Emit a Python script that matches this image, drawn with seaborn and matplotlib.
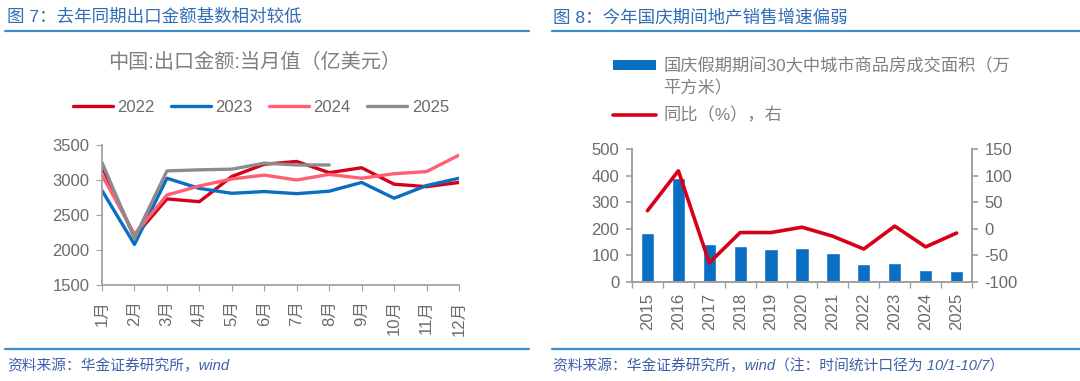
import numpy as np
import pandas as pd
import seaborn as sns
import matplotlib.pyplot as plt
from matplotlib.lines import Line2D
from matplotlib.patches import Patch

# ---------------- data ----------------
months = ['1月', '2月', '3月', '4月', '5月', '6月', '7月', '8月', '9月', '10月', '11月', '12月']
exp_2022 = [3190, 2190, 2730, 2690, 3050, 3225, 3265, 3105, 3175, 2940, 2905, 2965]
exp_2023 = [2850, 2080, 3025, 2880, 2810, 2835, 2805, 2840, 2965, 2740, 2920, 3025]
exp_2024 = [3070, 2225, 2785, 2915, 3015, 3070, 3000, 3080, 3025, 3090, 3120, 3355]
exp_2025 = [3250, 2165, 3130, 3145, 3155, 3240, 3215, 3215]
series_names = ['2022', '2023', '2024', '2025']

years = ['2015', '2016', '2017', '2018', '2019', '2020', '2021', '2022', '2023', '2024', '2025']
area = [185, 392, 143, 134, 125, 128, 110, 68, 71, 46, 43]
yoy = [34, 109, -64, -7, -7, 3, -14, -38, 5, -34, -8]

# ---------------- style ----------------
sns.set_theme(style='white')
plt.rcParams['font.family'] = ['Liberation Sans', 'Noto Sans CJK SC']
plt.rcParams['axes.unicode_minus'] = False

TICK = '#6b6b6b'
SPINE = '#a0a0a0'
BLUE_TXT = '#2f6db5'
RULE = '#3c8ecf'
palette = {'2022': '#d7001a', '2023': '#0a6ec2', '2024': '#ff5f73', '2025': '#8c8c8c'}

fig = plt.figure(figsize=(10.8, 3.81), dpi=100)
W, H = 1080, 381


def fx(px):
    return px / W


def fy(py):
    return 1 - py / H


# header / footer rules
for x0, x1 in [(5, 529), (552, 1080)]:
    for yy in (31, 349):
        fig.add_artist(Line2D([fx(x0), fx(x1)], [fy(yy), fy(yy)], transform=fig.transFigure,
                              color=RULE, lw=1.6))

fig.text(fx(7), fy(17), '图 7：去年同期出口金额基数相对较低', color=BLUE_TXT, fontsize=12.6, va='center')
fig.text(fx(553), fy(17), '图 8：今年国庆期间地产销售增速偏弱', color=BLUE_TXT, fontsize=12.6, va='center')
fig.text(fx(7), fy(366), '资料来源：华金证券研究所，wind', color='#3d5fa8', fontsize=10.6,
         style='italic', va='center')
fig.text(fx(553), fy(366), '资料来源：华金证券研究所，wind（注：时间统计口径为 10/1-10/7）',
         color='#3d5fa8', fontsize=10.6, style='italic', va='center')

# ---------------- left chart ----------------
ax1 = fig.add_axes([fx(102), fy(285), fx(459) - fx(102), fy(145) - fy(285)])
rows = []
for name, vals in zip(series_names, [exp_2022, exp_2023, exp_2024, exp_2025]):
    for i, v in enumerate(vals):
        rows.append({'m': i, 'v': v, 'year': name})
df1 = pd.DataFrame(rows)
sns.lineplot(data=df1, x='m', y='v', hue='year', palette=palette, linewidth=2.4,
             legend=False, ax=ax1)
ax1.set_xlim(0, len(months) - 1)
ax1.set_ylim(1500, 3500)
ax1.set_yticks(np.arange(1500, 3501, 500))
ax1.set_xticks(range(len(months)))
ax1.set_xticklabels(months, rotation=90)
ax1.set_xlabel('')
ax1.set_ylabel('')
for s in ['top', 'right']:
    ax1.spines[s].set_visible(False)
for s in ['left', 'bottom']:
    ax1.spines[s].set_color(SPINE)
ax1.tick_params(axis='both', colors=SPINE, labelcolor=TICK, labelsize=12, length=4,
                width=0.8, direction='out', left=True, bottom=True, pad=5)
ax1.tick_params(axis='x', pad=7)

fig.text(fx(255), fy(62), '中国:出口金额:当月值（亿美元）', color='#808080', fontsize=14.5,
         ha='center', va='center')
handles = [Line2D([], [], color=palette[n], lw=2.4) for n in series_names]
fig.legend(handles, series_names, loc='center', bbox_to_anchor=(fx(261), fy(107)), ncol=4,
           frameon=False, fontsize=12, labelcolor=TICK, handlelength=2.4, handletextpad=0.25,
           columnspacing=1.0)

# ---------------- right chart ----------------
ax2 = fig.add_axes([fx(632), fy(282), fx(972) - fx(632), fy(149) - fy(282)])
sns.barplot(x=years, y=area, color='#0a6ec2', saturation=1, width=0.43, ax=ax2)
ax2.set_xlim(-0.5, len(years) - 0.5)
ax2.set_ylim(0, 500)
ax2.set_yticks(np.arange(0, 501, 100))
ax2.set_xticks(range(len(years)))
ax2.set_xticklabels(years, rotation=90)
ax2.set_xticks(np.arange(-0.5, len(years), 1), minor=True)
ax2.tick_params(axis='x', which='major', length=0, labelsize=12, labelcolor=TICK, pad=8)
ax2.tick_params(axis='x', which='minor', length=4, color=SPINE, bottom=True)
ax2.tick_params(axis='y', length=4, color=SPINE, labelsize=12, labelcolor=TICK, left=True, pad=5)

ax3 = ax2.twinx()
sns.lineplot(x=np.arange(len(years)), y=yoy, color='#d7001a', linewidth=2.6, ax=ax3)
ax3.set_ylim(-100, 150)
ax3.set_yticks(np.arange(-100, 151, 50))
ax3.tick_params(axis='y', length=4, color=SPINE, labelsize=12, labelcolor=TICK, right=True, pad=5)
ax2.set_xlim(-0.5, len(years) - 0.5)

for a in (ax2, ax3):
    a.spines['top'].set_visible(False)
    for s in ['left', 'right', 'bottom']:
        a.spines[s].set_color(SPINE)

# legend: bar entry (two text lines) and line entry, stacked
h_bar = Patch(facecolor='#0a6ec2', edgecolor='none')
h_blank = Patch(facecolor='none', edgecolor='none')
h_line = Line2D([], [], color='#d7001a', lw=2.6)
leg_kw = dict(frameon=False, fontsize=12.4, labelcolor='#808080', handlelength=2.5,
              handleheight=0.45, handletextpad=0.45)
fig.legend([h_bar, h_blank], ['国庆假期期间30大中城市商品房成交面积（万', '平方米）'],
           loc='upper left', bbox_to_anchor=(fx(597), fy(42)), labelspacing=0.35, **leg_kw)
fig.legend([h_line], ['同比（%），右'], loc='center left',
           bbox_to_anchor=(fx(597), fy(115)), **leg_kw)

fig.savefig('out.png', dpi=100)
